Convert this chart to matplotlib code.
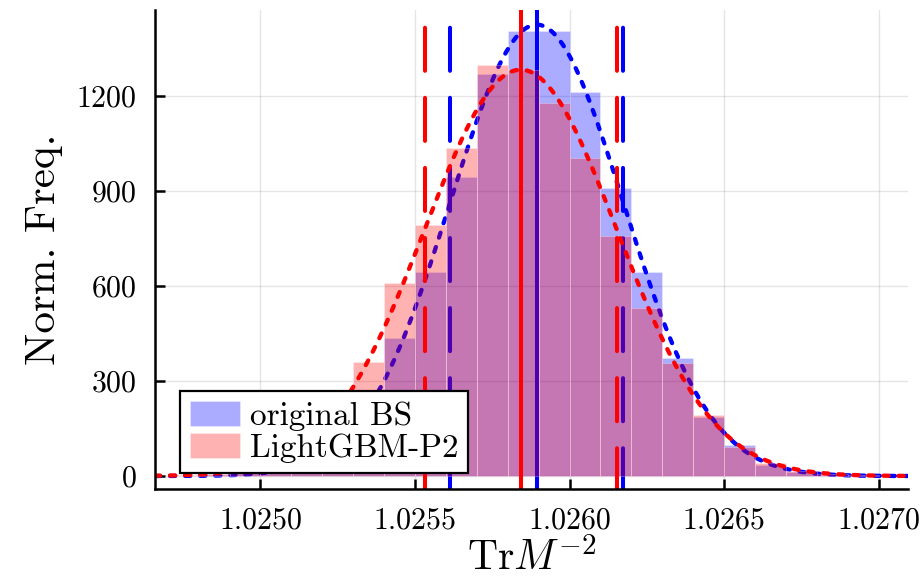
import numpy as np
import matplotlib
matplotlib.use("Agg")
import matplotlib.pyplot as plt

plt.rcParams['font.family'] = 'cmr10'
plt.rcParams['mathtext.fontset'] = 'cm'
plt.rcParams['axes.formatter.use_mathtext'] = True

# histogram bins (left edges), width 1e-4
bin_left = [1.0247, 1.0248, 1.0249, 1.0250, 1.0251, 1.0252, 1.0253, 1.0254,
            1.0255, 1.0256, 1.0257, 1.0258, 1.0259, 1.0260, 1.0261, 1.0262,
            1.0263, 1.0264, 1.0265, 1.0266, 1.0267, 1.0268, 1.0269]
bin_width = 0.0001
bs_freq = [1, 3, 8, 18, 40, 95, 210, 435, 645, 945, 1268, 1406, 1404, 1213,
           908, 643, 372, 187, 98, 35, 12, 4, 1]
gbm_freq = [2, 5, 12, 30, 80, 190, 361, 608, 792, 1035, 1298, 1281, 1177, 1003,
            758, 529, 356, 193, 92, 41, 15, 5, 2]

# gaussian fit parameters (mean, std)
bs_mu, bs_sig = 1.025894, 0.000280
gbm_mu, gbm_sig = 1.025842, 0.000311

labels = ["original BS", "LightGBM-P2"]
xticks = [1.0250, 1.0255, 1.0260, 1.0265, 1.0270]
xticklabels = ["1.0250", "1.0255", "1.0260", "1.0265", "1.0270"]
yticks = [0, 300, 600, 900, 1200]

xmin, xmax = 1.0246586, 1.0270955
ymin, ymax = -41, 1471

fig = plt.figure(figsize=(9.23, 5.83), dpi=100)
ax = fig.add_axes([0.1679, 0.1612, 0.8159, 0.8216])

xx = np.linspace(xmin, xmax, 500)
def gauss(x, mu, sig):
    return np.exp(-0.5*((x-mu)/sig)**2)/(sig*np.sqrt(2*np.pi))

lw = 2.9

def draw(freq, mu, sig, col, alpha, lab):
    ax.bar(bin_left, freq, width=bin_width, align='edge', color=col, alpha=alpha,
           edgecolor='white', linewidth=0.6, label=lab, zorder=2)
    ax.plot(xx, gauss(xx, mu, sig), color=col, lw=3.1, linestyle=(0, (1.2, 2.3)),
            dash_capstyle='round', zorder=2)
    ax.plot([mu, mu], [ymax, ymin], color=col, lw=lw, zorder=2)
    for v in (mu-sig, mu+sig):
        ax.plot([v, v], [ymax, ymin], color=col, lw=lw, linestyle=(13.0, (10.7, 6.7)),
                dash_capstyle='round', zorder=2)

draw(bs_freq, bs_mu, bs_sig, 'blue', 0.33, labels[0])
draw(gbm_freq, gbm_mu, gbm_sig, 'red', 0.3, labels[1])

ax.set_xlim(xmin, xmax)
ax.set_ylim(ymin, ymax)
ax.set_xticks(xticks)
ax.set_xticklabels(xticklabels)
ax.set_yticks(yticks)
ax.grid(True, color='black', alpha=0.1, lw=1.0, zorder=0)
ax.set_axisbelow(True)
for s in ['top', 'right']:
    ax.spines[s].set_visible(False)
for s in ['left', 'bottom']:
    ax.spines[s].set_linewidth(1.8)
ax.tick_params(direction='in', length=7, width=1.8, labelsize=21.5, pad=13)

ax.set_xlabel(r'$\mathrm{Tr}M^{-2}$', fontsize=30, labelpad=3)
ax.set_ylabel('Norm. Freq.', fontsize=31, labelpad=10)

leg = ax.legend(loc='lower left', bbox_to_anchor=(0.033, 0.033), borderaxespad=0,
                fontsize=24, fancybox=False, framealpha=1, edgecolor='black',
                handlelength=1.5, handleheight=0.8, handletextpad=0.3,
                labelspacing=0.05, borderpad=0.3)
leg.get_frame().set_linewidth(1.6)

plt.savefig('out.png', dpi=100)
